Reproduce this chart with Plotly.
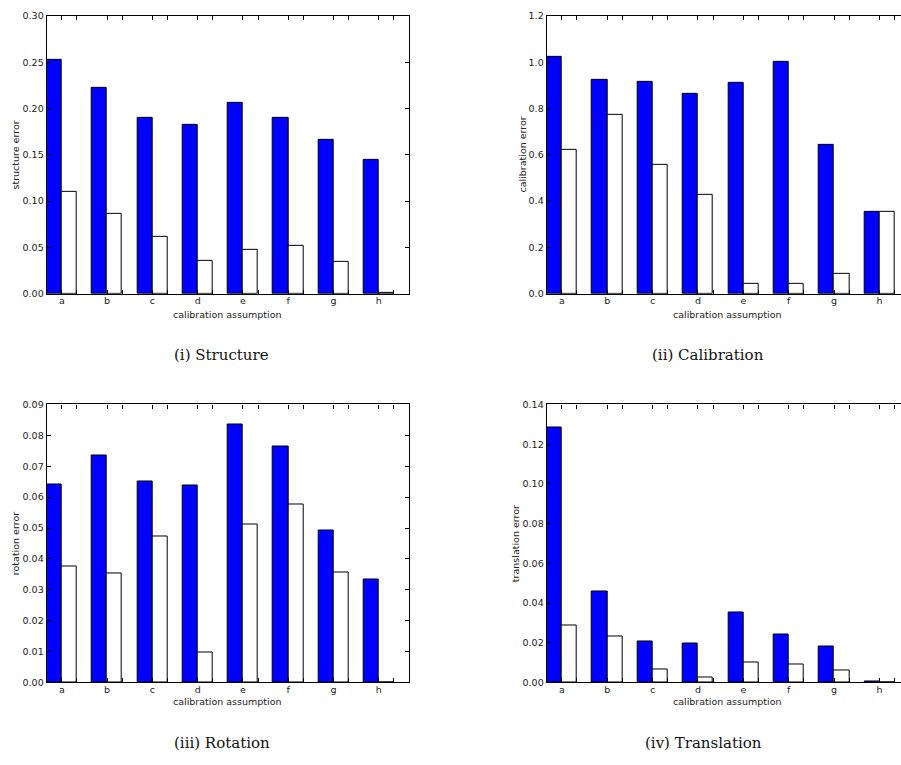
import plotly.graph_objects as go

# Calibration assumptions (x categories)
categories = ["a", "b", "c", "d", "e", "f", "g", "h"]

# Error per assumption: filled (blue) and open (white) bars
structure_blue = [0.252, 0.222, 0.190, 0.182, 0.206, 0.190, 0.166, 0.145]
structure_white = [0.110, 0.086, 0.062, 0.036, 0.047, 0.052, 0.035, 0.001]

calibration_blue = [1.025, 0.923, 0.913, 0.862, 0.911, 1.001, 0.641, 0.353]
calibration_white = [0.621, 0.774, 0.557, 0.427, 0.045, 0.041, 0.085, 0.353]

rotation_blue = [0.0641, 0.0735, 0.0651, 0.0639, 0.0834, 0.0763, 0.0491, 0.0332]
rotation_white = [0.0376, 0.0353, 0.0472, 0.0098, 0.0513, 0.0576, 0.0357, 0.0]

translation_blue = [0.1282, 0.0460, 0.0207, 0.0194, 0.0352, 0.0243, 0.0182, 0.0003]
translation_white = [0.0286, 0.0233, 0.0066, 0.0025, 0.0099, 0.0091, 0.0061, 0.0002]

y_titles = ["structure error", "calibration error", "rotation error", "translation error"]
captions = ["(i) Structure", "(ii) Calibration", "(iii) Rotation", "(iv) Translation"]
y_ticks = [
    [0.0, 0.05, 0.10, 0.15, 0.20, 0.25, 0.30],
    [0.0, 0.2, 0.4, 0.6, 0.8, 1.0, 1.2],
    [0.0, 0.01, 0.02, 0.03, 0.04, 0.05, 0.06, 0.07, 0.08, 0.09],
    [0.0, 0.02, 0.04, 0.06, 0.08, 0.10, 0.12, 0.14],
]
y_formats = [".2f", ".1f", ".2f", ".2f"]

W, H = 901, 765
BAR_W = 1 / 3

def px_x(p):
    return p / W

def px_y(p):
    return 1 - p / H

# panel geometry in pixels: (left, right, top, bottom)
panels = [
    (46.7, 409.0, 10.0, 292.0),
    (546.7, 901.0, 10.0, 292.0),
    (46.7, 409.0, 404.3, 686.3),
    (546.7, 901.0, 404.3, 686.3),
]
x_ranges = [[0, 8], [0, 7.807], [0, 8], [0, 7.807]]
y_title_x = [15.7, 522.7, 15.7, 515.7]
caption_pos = [(221, 354.5), (708, 354.5), (222, 747.5), (703, 747.5)]
xtitle_pos = [(228, 312.7), (727, 312.7), (228, 706.0), (727, 706.0)]

series = [
    (structure_blue, structure_white),
    (calibration_blue, calibration_white),
    (rotation_blue, rotation_white),
    (translation_blue, translation_white),
]

fig = go.Figure()
tick_font = dict(family="DejaVu Sans", size=9.5, color="#222")

idx = list(range(len(categories)))
tickvals = []
ticktext = []
for i, c in enumerate(categories):
    tickvals += [i + BAR_W, i + 2 * BAR_W]
    ticktext += [c, ""]

annotations = []
for k, (blue, white) in enumerate(series):
    n = k + 1
    xa = "x" if n == 1 else f"x{n}"
    ya = "y" if n == 1 else f"y{n}"
    fig.add_trace(go.Bar(
        x=idx, y=blue, width=BAR_W, offset=0,
        marker=dict(color="#0000ff", line=dict(color="#000", width=1)),
        xaxis=xa, yaxis=ya, showlegend=False,
    ))
    fig.add_trace(go.Bar(
        x=idx, y=white, width=BAR_W, offset=BAR_W,
        marker=dict(color="#ffffff", line=dict(color="#000", width=1)),
        xaxis=xa, yaxis=ya, showlegend=False,
    ))
    l, r, t, b = panels[k]
    right_spine = k in (0, 2)
    fig.update_layout(**{
        ("xaxis" if n == 1 else f"xaxis{n}"): dict(
            domain=[px_x(l), min(px_x(r), 1.0)], anchor=ya,
            range=x_ranges[k], tickvals=tickvals, ticktext=ticktext,
            ticks="inside", ticklen=4, tickcolor="#000", tickwidth=1,
            showline=True, linecolor="#000", linewidth=1.2,
            mirror="ticks", showgrid=False, zeroline=False,
            tickfont=tick_font, fixedrange=True, ticklabelstandoff=-2,
        ),
        ("yaxis" if n == 1 else f"yaxis{n}"): dict(
            domain=[px_y(b), px_y(t)], anchor=xa,
            range=[y_ticks[k][0], y_ticks[k][-1]], tickvals=y_ticks[k],
            tickformat=y_formats[k],
            ticks="inside", ticklen=4, tickcolor="#000", tickwidth=1,
            showline=True, linecolor="#000", linewidth=1.2,
            mirror="ticks" if right_spine else False,
            showgrid=False, zeroline=False,
            tickfont=tick_font, fixedrange=True,
        ),
    })
    # axis titles
    cx, cy = xtitle_pos[k]
    annotations.append(dict(
        text="calibration assumption", x=px_x(cx), y=px_y(cy),
        xref="paper", yref="paper", showarrow=False,
        xanchor="center", yanchor="middle",
        font=dict(family="DejaVu Sans", size=9.5, color="#222"),
    ))
    annotations.append(dict(
        text=y_titles[k], x=px_x(y_title_x[k]), y=px_y((t + b) / 2),
        xref="paper", yref="paper", showarrow=False, textangle=-90,
        xanchor="center", yanchor="middle",
        font=dict(family="DejaVu Sans", size=9.5, color="#222"),
    ))
    # panel caption
    px, py = caption_pos[k]
    annotations.append(dict(
        text=captions[k], x=px_x(px), y=px_y(py),
        xref="paper", yref="paper", showarrow=False,
        xanchor="center", yanchor="middle",
        font=dict(family="DejaVu Serif", size=15, color="#111"),
    ))

fig.update_layout(
    width=W, height=H,
    margin=dict(l=0, r=0, t=0, b=0),
    paper_bgcolor="#fff", plot_bgcolor="#fff",
    barmode="overlay", bargap=0,
    annotations=annotations,
)

fig.write_html("out.html")
